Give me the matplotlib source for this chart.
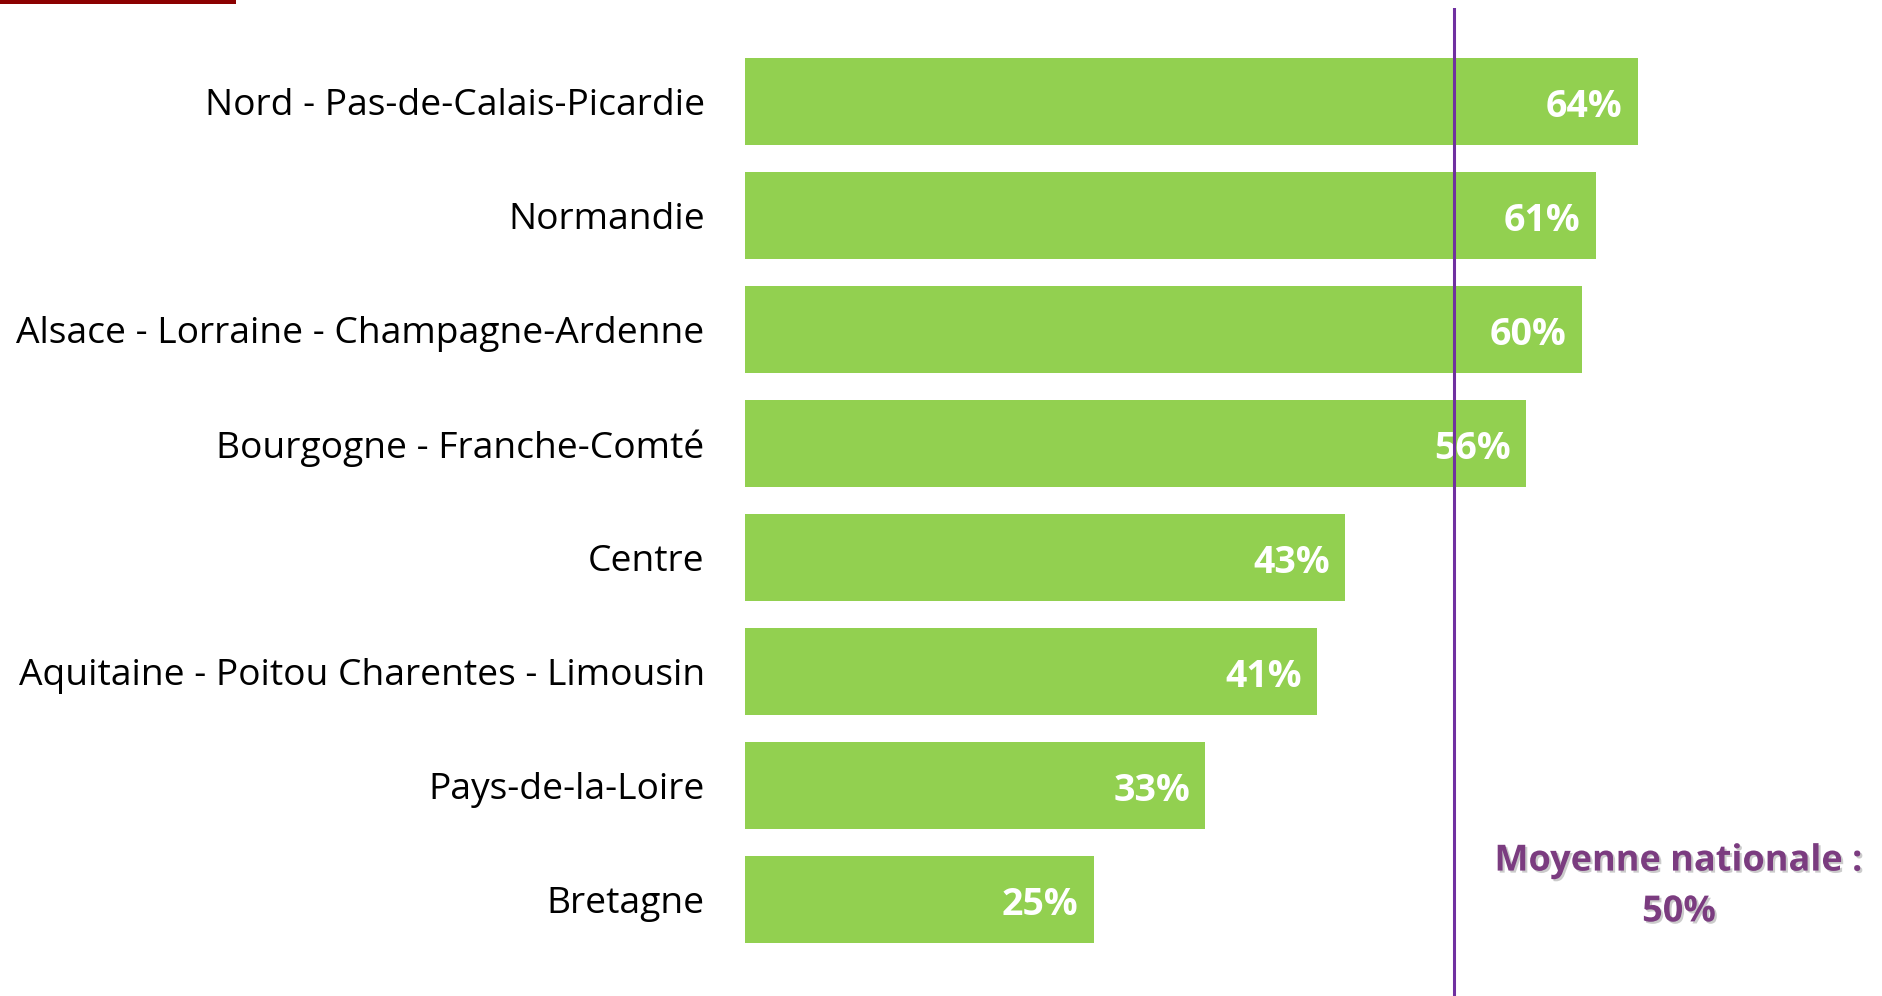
import matplotlib
matplotlib.use("Agg")
import matplotlib.pyplot as plt
import matplotlib.patheffects as pe
from matplotlib.patches import Rectangle

regions = [
    "Nord - Pas-de-Calais-Picardie",
    "Normandie",
    "Alsace - Lorraine - Champagne-Ardenne",
    "Bourgogne - Franche-Comté",
    "Centre",
    "Aquitaine - Poitou Charentes - Limousin",
    "Pays-de-la-Loire",
    "Bretagne",
]
values = [64, 61, 60, 56, 43, 41, 33, 25]
value_labels = ["64%", "61%", "60%", "56%", "43%", "41%", "33%", "25%"]
avg_line = 50.8
avg_label = "Moyenne nationale :\n50%"

W, H = 1882, 996
fig = plt.figure(figsize=(W / 100, H / 100), dpi=100)
fig.patch.set_facecolor("white")

left_px, right_px = 745, 745 + 80 * 13.95
top_px, bottom_px = 8, 996
ax = fig.add_axes([left_px / W, 1 - bottom_px / H, (right_px - left_px) / W, (bottom_px - top_px) / H])

font = ["Open Sans", "DejaVu Sans"]
ypos = list(range(len(regions)))
ax.barh(ypos, values, height=0.763, color="#92D050", edgecolor="none", zorder=2)
ax.set_xlim(0, 80)
ax.set_ylim(7.846, -0.82)
ax.axvline(avg_line, color="#7030A0", lw=2.2, zorder=4)

for y, v, lab in zip(ypos, values, value_labels):
    ax.text(v - 1.1, y + 0.05, lab, ha="right", va="center", color="white",
            fontsize=27, fontweight="bold", family=font, zorder=3)

ax.set_yticks(ypos)
ax.set_yticklabels(regions, fontsize=26.8, family=font, color="black")
ax.tick_params(axis="y", length=0, pad=29)
ax.set_xticks([])
for s in ax.spines.values():
    s.set_visible(False)

fig.text(1679 / W, 1 - 887 / H, avg_label, ha="center", va="center",
         color="#7B3C80", fontsize=26, fontweight="bold", family=font,
         linespacing=1.55,
         path_effects=[pe.withSimplePatchShadow(offset=(1.5, -1.5), shadow_rgbFace="#999999", alpha=0.5)])

fig.patches.append(Rectangle((0, 1 - 4 / H), 236 / W, 4 / H, transform=fig.transFigure,
                             facecolor="#8B0000", edgecolor="none"))

fig.savefig("out.png", dpi=100)
